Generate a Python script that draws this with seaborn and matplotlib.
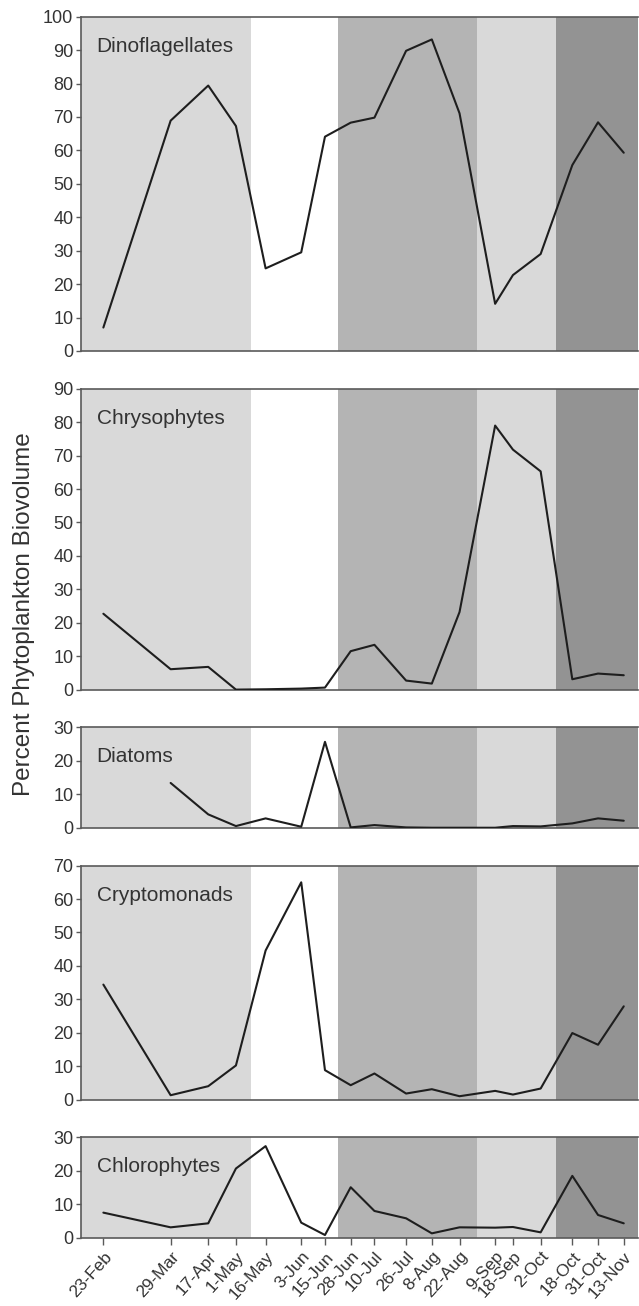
import numpy as np
import pandas as pd
import matplotlib
matplotlib.use("Agg")
import matplotlib.pyplot as plt
import seaborn as sns

# Sampling dates (one season)
sample_dates = ["23-Feb", "29-Mar", "17-Apr", "1-May", "16-May", "3-Jun", "15-Jun",
                "28-Jun", "10-Jul", "26-Jul", "8-Aug", "22-Aug", "9-Sep", "18-Sep",
                "2-Oct", "18-Oct", "31-Oct", "13-Nov"]

# Percent of total phytoplankton biovolume per group
dinoflagellates = [7.0, 68.9, 79.4, 67.3, 24.7, 29.5, 64.1, 68.3, 69.8, 89.8, 93.2, 71.1,
                   14.1, 22.7, 29.0, 55.6, 68.4, 59.3]
chrysophytes = [22.7, 6.1, 6.8, 0.0, 0.1, 0.3, 0.6, 11.5, 13.4, 2.7, 1.8, 23.2,
                79.0, 71.8, 65.3, 3.1, 4.8, 4.3]
diatoms = [np.nan, 13.4, 4.0, 0.5, 2.8, 0.3, 25.7, 0.1, 0.8, 0.1, 0.0, 0.0,
           0.0, 0.5, 0.4, 1.3, 2.8, 2.1]
cryptomonads = [34.4, 1.3, 4.0, 10.2, 44.6, 65.0, 8.8, 4.3, 7.8, 1.8, 3.1, 1.0,
                2.6, 1.5, 3.3, 19.9, 16.4, 27.9]
chlorophytes = [7.5, 3.1, 4.3, 20.7, 27.4, 4.5, 0.8, 15.1, 8.0, 5.8, 1.3, 3.1,
                3.0, 3.2, 1.6, 18.5, 6.8, 4.3]

groups = ["Dinoflagellates", "Chrysophytes", "Diatoms", "Cryptomonads", "Chlorophytes"]
group_values = [dinoflagellates, chrysophytes, diatoms, cryptomonads, chlorophytes]
axis_max = [100, 90, 30, 70, 30]

# Seasonal periods: each new period begins halfway between two sampling dates
period_starts = ["16-May", "28-Jun", "9-Sep", "18-Oct"]
period_colors = ["#d9d9d9", "#ffffff", "#b4b4b4", "#d9d9d9", "#939393"]

sns.set_style("ticks")
plt.rcParams["font.family"] = ["Liberation Sans", "DejaVu Sans"]

dates = pd.to_datetime([d + "-2005" for d in sample_dates], format="%d-%b-%Y")

# Band edges derived from the sampling dates
edges = [dates[0] - pd.Timedelta(days=11.3)]
for s in period_starts:
    i = sample_dates.index(s)
    edges.append(dates[i - 1] + (dates[i] - dates[i - 1]) / 2)
edges.append(dates[-1] + pd.Timedelta(days=7.2))

fig = plt.figure(figsize=(6.39, 13.06), dpi=100)
gs = fig.add_gridspec(5, 1, height_ratios=axis_max,
                      left=81 / 639, right=638 / 639,
                      top=1 - 16.7 / 1306, bottom=1 - 1237.7 / 1306, hspace=0.177)
axes = gs.subplots(sharex=True)

spine_color = "#5a5a5a"
text_color = "#333333"

for ax, name, vals, ymax in zip(axes, groups, group_values, axis_max):
    for k in range(len(period_colors)):
        ax.axvspan(edges[k], edges[k + 1], color=period_colors[k], lw=0, zorder=0)
    df = pd.DataFrame({"date": dates, "pct": vals})
    sns.lineplot(data=df, x="date", y="pct", ax=ax, color="#1e1e1e",
                 linewidth=1.5, estimator=None, zorder=3)
    ax.set_ylim(0, ymax)
    ax.set_yticks(np.arange(0, ymax + 1, 10))
    ax.set_xlim(edges[0], edges[-1])
    ax.set_xlabel("")
    ax.set_ylabel("")
    for side in ["left", "top", "bottom"]:
        ax.spines[side].set_color(spine_color)
        ax.spines[side].set_linewidth(1.2)
    ax.spines["right"].set_visible(False)
    ax.tick_params(axis="y", direction="out", length=3.5, width=1, color=spine_color,
                   labelsize=13, labelcolor=text_color, pad=2)
    ax.annotate(name, xy=(0, 1), xycoords="axes fraction", xytext=(11.3, -25.2),
                textcoords="offset points", ha="left", va="baseline",
                fontsize=15, color=text_color)
    ax.set_axisbelow(False)

for ax in axes[:-1]:
    ax.tick_params(axis="x", bottom=False, labelbottom=False)

bottom_ax = axes[-1]
bottom_ax.set_xticks(dates)
bottom_ax.set_xticklabels(sample_dates, rotation=48, ha="right", rotation_mode="anchor")
bottom_ax.tick_params(axis="x", direction="out", length=5, width=1, color=spine_color,
                      labelsize=12.5, labelcolor=text_color, pad=3)

fig.text(0.038, 1 - 614 / 1306, "Percent Phytoplankton Biovolume", rotation=90,
         ha="center", va="center", fontsize=17.5, color=text_color)

fig.savefig("out.png", dpi=100)
